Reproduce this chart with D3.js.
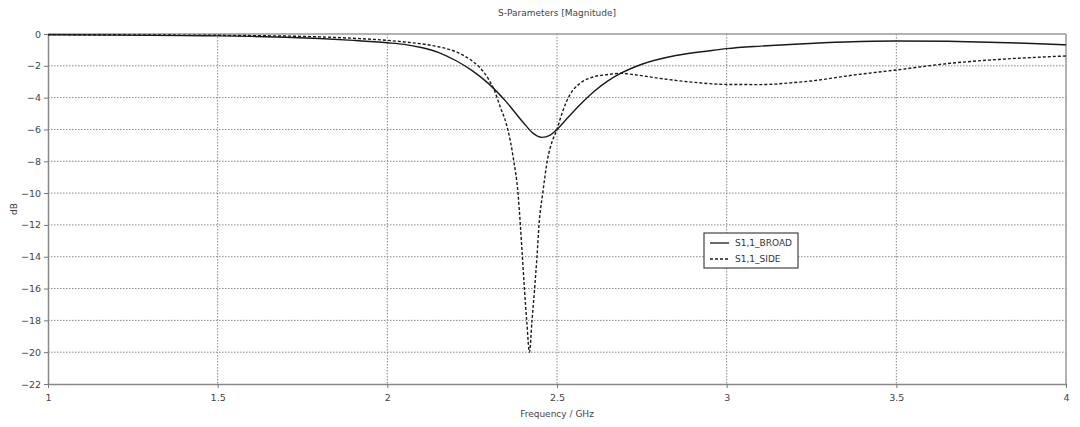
<!DOCTYPE html>
<html>
<head>
<meta charset="utf-8">
<script src="https://cdn.jsdelivr.net/npm/d3@7"></script>
<style>
  body { margin: 0; background: #fff; }
  svg { display: block; font-family: "DejaVu Sans", sans-serif; }
</style>
</head>
<body>
<div id="chart"></div>
<script>
// Frequency points (GHz) and magnitude (dB)
var freqBroad = [1.0, 1.2, 1.4, 1.5, 1.6, 1.7, 1.8, 1.9, 2.0, 2.05, 2.1, 2.15, 2.2, 2.25, 2.3, 2.35,
    2.4, 2.43, 2.455, 2.48, 2.5, 2.53, 2.57, 2.61, 2.65, 2.69, 2.75, 2.85, 2.95, 3.0, 3.1, 3.2,
    3.35, 3.5, 3.65, 3.8, 3.9, 4.0];
var s11Broad = [-0.05, -0.07, -0.1, -0.12, -0.15, -0.2, -0.28, -0.4, -0.55, -0.65, -0.85, -1.15, -1.65, -2.3, -3.15, -4.25,
    -5.55, -6.25, -6.5, -6.35, -6.0, -5.3, -4.4, -3.6, -2.95, -2.45, -1.9, -1.35, -1.05, -0.92, -0.76, -0.64,
    -0.5, -0.44, -0.46, -0.53, -0.6, -0.68];

var freqSide = [1.0, 1.2, 1.4, 1.5, 1.6, 1.7, 1.8, 1.9, 2.0, 2.05, 2.1, 2.15, 2.2, 2.25, 2.27, 2.3,
    2.313, 2.333, 2.35, 2.362, 2.372, 2.385, 2.392, 2.398, 2.404, 2.411, 2.419, 2.426, 2.434, 2.441,
    2.447, 2.458, 2.472, 2.487, 2.5, 2.51, 2.525, 2.54, 2.568, 2.607, 2.65, 2.69, 2.725, 2.8, 2.9,
    3.0, 3.1, 3.2, 3.25, 3.36, 3.5, 3.66, 3.8, 3.9, 4.0];
var s11Side = [-0.04, -0.05, -0.07, -0.08, -0.1, -0.13, -0.18, -0.27, -0.4, -0.5, -0.62, -0.8, -1.1, -1.7, -2.05, -2.9,
    -3.42, -4.6, -5.6, -6.67, -7.9, -10.0, -12.0, -14.0, -16.0, -18.1, -20.0, -18.1, -16.0, -14.0,
    -12.0, -10.0, -7.9, -6.67, -6.0, -5.3, -4.4, -3.75, -3.1, -2.7, -2.55, -2.47, -2.55, -2.78, -3.03,
    -3.17, -3.18, -3.05, -2.95, -2.62, -2.26, -1.84, -1.6, -1.48, -1.38];

var seriesNames = ["S1,1_BROAD", "S1,1_SIDE"];
var xTicks = [1, 1.5, 2, 2.5, 3, 3.5, 4];
var yTicks = [0, -2, -4, -6, -8, -10, -12, -14, -16, -18, -20, -22];

var W = 1080, H = 427;
var margin = {left: 48, right: 14, top: 34, bottom: 43};
var width = W - margin.left - margin.right;
var height = H - margin.top - margin.bottom;

var svg = d3.select("#chart").append("svg")
    .attr("width", W)
    .attr("height", H);

var chart = svg.append("g")
    .attr("transform", "translate(" + margin.left + "," + margin.top + ")");

var x = d3.scaleLinear().domain([1, 4]).range([0, width]);
var y = d3.scaleLinear().domain([-22, 0]).range([height, 0]);

// Dotted grid
chart.append("g").selectAll("line")
    .data(yTicks.filter(function (d) { return d !== 0 && d !== -22; }))
    .enter().append("line")
    .attr("x1", 0).attr("x2", width)
    .attr("y1", function (d) { return y(d); })
    .attr("y2", function (d) { return y(d); })
    .attr("stroke", "#888")
    .attr("stroke-width", 1)
    .attr("stroke-dasharray", "1.5,1.5");

chart.append("g").selectAll("line")
    .data(xTicks.filter(function (d) { return d !== 1 && d !== 4; }))
    .enter().append("line")
    .attr("y1", 0).attr("y2", height)
    .attr("x1", function (d) { return x(d); })
    .attr("x2", function (d) { return x(d); })
    .attr("stroke", "#888")
    .attr("stroke-width", 1)
    .attr("stroke-dasharray", "1.5,1.5");

// Frame: top and right lines
chart.append("line")
    .attr("x1", 0).attr("x2", width).attr("y1", 0).attr("y2", 0)
    .attr("stroke", "#999").attr("stroke-width", 1.5);
chart.append("line")
    .attr("x1", width).attr("x2", width).attr("y1", 0).attr("y2", height)
    .attr("stroke", "#999").attr("stroke-width", 1.5);

// Axes
var xAxis = d3.axisBottom(x).tickValues(xTicks).tickFormat(d3.format("~g")).tickSize(4).tickSizeOuter(0);
var yAxis = d3.axisLeft(y).tickValues(yTicks).tickFormat(d3.format("~g")).tickSize(4).tickSizeOuter(0);

var gx = chart.append("g")
    .attr("transform", "translate(0," + height + ")")
    .call(xAxis);
var gy = chart.append("g").call(yAxis);

[gx, gy].forEach(function (g) {
    g.select(".domain").attr("stroke", "#888").attr("stroke-width", 1.5);
    g.selectAll(".tick line").attr("stroke", "#777");
    g.selectAll("text")
        .attr("fill", "#444")
        .style("font-size", "9.5px")
        .style("font-family", "'DejaVu Sans', sans-serif");
});
gx.selectAll("text").attr("dy", "1.1em");
gy.selectAll("text").attr("x", -7);

// Titles
svg.append("text")
    .attr("x", margin.left + width / 2)
    .attr("y", 16)
    .attr("text-anchor", "middle")
    .attr("fill", "#444")
    .style("font-size", "9px")
    .text("S-Parameters [Magnitude]");

svg.append("text")
    .attr("x", margin.left + width / 2)
    .attr("y", 417)
    .attr("text-anchor", "middle")
    .attr("fill", "#444")
    .style("font-size", "9px")
    .text("Frequency / GHz");

svg.append("text")
    .attr("transform", "translate(17," + (margin.top + height / 2) + ") rotate(-90)")
    .attr("text-anchor", "middle")
    .attr("fill", "#444")
    .style("font-size", "9px")
    .text("dB");

// Curves
var line = d3.line()
    .x(function (d) { return x(d[0]); })
    .y(function (d) { return y(d[1]); })
    .curve(d3.curveMonotoneX);

chart.append("path")
    .datum(d3.zip(freqBroad, s11Broad))
    .attr("d", line)
    .attr("fill", "none")
    .attr("stroke", "#1a1a1a")
    .attr("stroke-width", 1.4);

chart.append("path")
    .datum(d3.zip(freqSide, s11Side))
    .attr("d", line)
    .attr("fill", "none")
    .attr("stroke", "#1a1a1a")
    .attr("stroke-width", 1.4)
    .attr("stroke-dasharray", "3,2");

// Legend
var legend = svg.append("g").attr("transform", "translate(704,233)");
legend.append("rect")
    .attr("width", 94).attr("height", 35)
    .attr("fill", "#fff")
    .attr("stroke", "#444")
    .attr("stroke-width", 1.2);

var items = legend.selectAll("g.item")
    .data(seriesNames)
    .enter().append("g")
    .attr("class", "item")
    .attr("transform", function (d, i) { return "translate(6," + (10 + i * 16) + ")"; });

items.append("line")
    .attr("x1", 0).attr("x2", 19)
    .attr("stroke", "#1a1a1a")
    .attr("stroke-width", 1.3)
    .attr("stroke-dasharray", function (d, i) { return i === 1 ? "3,2" : null; });

items.append("text")
    .attr("x", 25)
    .attr("dy", "0.35em")
    .attr("fill", "#333")
    .style("font-size", "9px")
    .text(function (d) { return d; });
</script>
</body>
</html>
